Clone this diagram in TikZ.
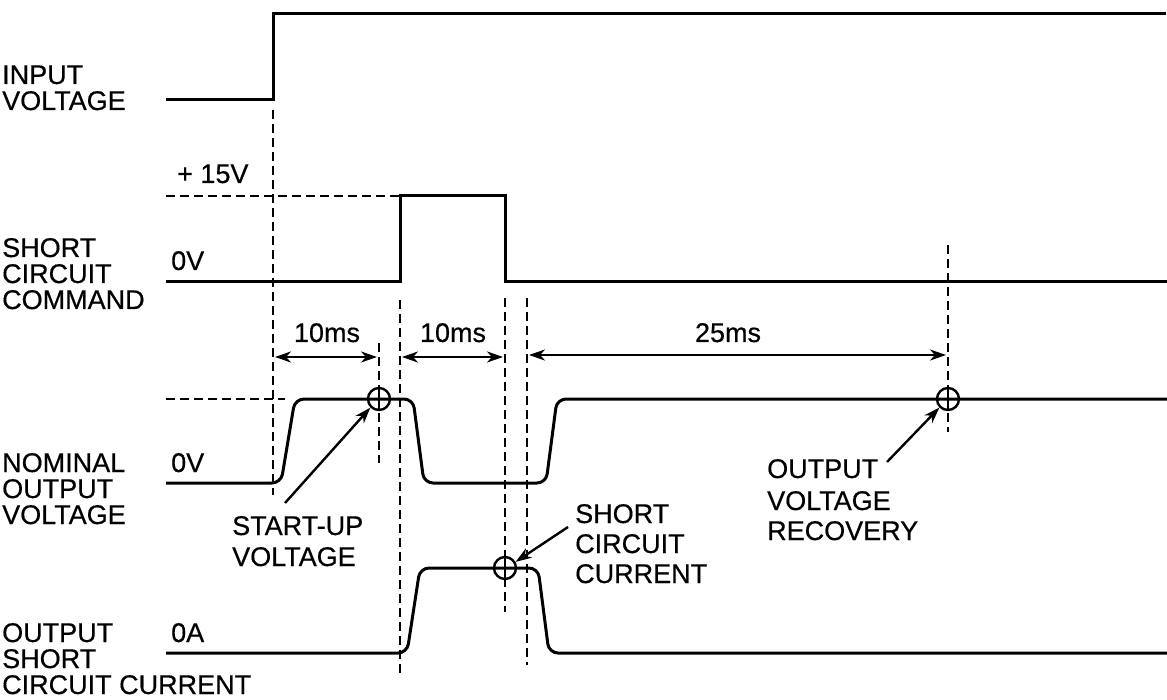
\documentclass[tikz,border=0pt]{standalone}
\usepackage{fontspec}
\setmainfont{Liberation Sans}
\newfontfamily\lblfont{Liberation Sans}[FakeBold=0.5]
\usetikzlibrary{arrows.meta}
\begin{document}
\begin{tikzpicture}[x=1pt,y=-1pt,
  sig/.style={line width=3pt, line join=round, rounded corners=9pt},
  guide/.style={line width=2.4pt, dash pattern=on 9pt off 5pt},
  lbl/.style={anchor=base west, inner sep=0pt, font=\lblfont\fontsize{27}{27}\selectfont},
  dimc/.style={anchor=base, inner sep=0pt, font=\lblfont\fontsize{27}{27}\selectfont},
  dimarrow/.style={line width=2.4pt, {Stealth[length=16pt,width=11pt,inset=5pt]}-{Stealth[length=16pt,width=11pt,inset=5pt]}},
  ptr/.style={line width=2.4pt, -{Stealth[length=16pt,width=11pt,inset=5pt]}},
  ring/.style={circle, draw, line width=2.4pt, minimum size=22pt, inner sep=0pt}
]
\useasboundingbox (0,0) rectangle (1167,700);

% ---- left labels
\node[lbl] (l1a) at (2,84) {INPUT};
\node[lbl] (l1b) at (2,110) {VOLTAGE};
\node[lbl] (l2a) at (2,257) {SHORT};
\node[lbl] (l2b) at (2,283) {CIRCUIT};
\node[lbl] (l2c) at (2,309) {COMMAND};
\node[lbl] (l3a) at (2,472) {NOMINAL};
\node[lbl] (l3b) at (2,498) {OUTPUT};
\node[lbl] (l3c) at (2,524) {VOLTAGE};
\node[lbl] (l4a) at (2,642) {OUTPUT};
\node[lbl] (l4b) at (2,668) {SHORT};
\node[lbl] (l4c) at (2,694) {CIRCUIT CURRENT};

% ---- level labels
\node[lbl] (p15) at (177,183) {+ 15V};
\node[lbl] (z1) at (171,270) {0V};
\node[lbl] (z2) at (171,472) {0V};
\node[lbl] (z3) at (171,642) {0A};

% ---- guides
\draw[guide] (166,196) -- (400,196);
\draw[guide] (166,399) -- (285,399);
\draw[guide] (273,110) -- (273,495);
\draw[guide] (400,300) -- (400,675);
\draw[guide] (379,343) -- (379,463);
\draw[guide] (505,298) -- (505,612);
\draw[guide] (527,298) -- (527,665);
\draw[guide] (948,245) -- (948,432);

% ---- input voltage
\draw[line width=3pt, line join=miter] (166,100) -- (273,100) -- (273,14) -- (1166,14);
% ---- short circuit command
\draw[line width=3pt, line join=miter] (166,282) -- (400,282) -- (400,196) -- (505,196) -- (505,282) -- (1167,282);
% ---- nominal output voltage
\draw[sig] (166,483) -- (281,483) -- (295,399) -- (413,399) -- (424,483) -- (546,483) -- (557,399) -- (1167,399);
% ---- output short circuit current
\draw[sig] (166,653) -- (407,653) -- (420,568) -- (538,568) -- (549,653) -- (1167,653);

% ---- check points
\node[ring] (c1) at (379,399) {};
\node[ring] (c2) at (505,568) {};
\node[ring] (c3) at (948,399) {};
\draw[line width=2.4pt] (c1.north) -- (c1.south);
\draw[line width=2.4pt] (c2.north) -- (c2.south);
\draw[line width=2.4pt] (c3.north) -- (c3.south);

% ---- timing dimensions
\coordinate (d1a) at (275,357); \coordinate (d1b) at (377,357);
\coordinate (d2a) at (402,357); \coordinate (d2b) at (503,357);
\coordinate (d3a) at (529,355); \coordinate (d3b) at (946,355);
\draw[dimarrow] (d1a) -- (d1b);
\draw[dimarrow] (d2a) -- (d2b);
\draw[dimarrow] (d3a) -- (d3b);
\node[dimc] (t1) at (327,342) {10ms};
\node[dimc] (t2) at (453,342) {10ms};
\node[dimc] (t3) at (728,342) {25ms};

% ---- annotations
\node[lbl] (s1a) at (232,535) {START-UP};
\node[lbl] (s1b) at (232,566) {VOLTAGE};
\node[lbl] (s2a) at (575,523) {SHORT};
\node[lbl] (s2b) at (575,553) {CIRCUIT};
\node[lbl] (s2c) at (575,583) {CURRENT};
\node[lbl] (s3a) at (767,478) {OUTPUT};
\node[lbl] (s3b) at (767,510) {VOLTAGE};
\node[lbl] (s3c) at (767,540) {RECOVERY};

\coordinate (a1) at (285,503);
\coordinate (a2) at (568,527);
\coordinate (a3) at (887,462);
\draw[ptr] (a1) -- (c1.-135);
\draw[ptr] (a2) -- (c2.30);
\draw[ptr] (a3) -- (c3.-135);
\end{tikzpicture}
\end{document}
